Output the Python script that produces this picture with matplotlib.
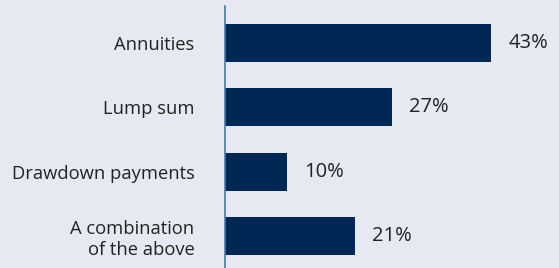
import matplotlib.pyplot as plt

categories = ["Annuities", "Lump sum", "Drawdown payments", "A combination\nof the above"]
values = [43, 27, 10, 21]

BG = "#e6e9f2"
BAR = "#002855"
AXIS = "#4f77a3"
TXT = "#222222"

plt.rcParams["font.family"] = ["Open Sans", "DejaVu Sans"]

fig = plt.figure(figsize=(5.59, 2.68), dpi=100, facecolor=BG)
ax = fig.add_axes([225 / 559, 0, 334 / 559, 262 / 268])
ax.set_facecolor(BG)

pos = list(range(len(categories)))
ax.barh(pos, values, height=0.59, color=BAR)
ax.set_xlim(0, 334 / 6.19)
ax.set_ylim(3.5, -0.575)

ax.set_yticks(pos)
ax.set_yticklabels(categories, fontsize=13.2, color=TXT, ha="right", linespacing=1.25)
ax.tick_params(axis="y", length=0, pad=22)
ax.set_xticks([])

for p, v in zip(pos, values):
    ax.annotate(f"{v}%", (v, p), xytext=(17, 0), textcoords="offset pixels",
                va="center", ha="left", fontsize=14.5, color=TXT)

for s in ["top", "right", "bottom"]:
    ax.spines[s].set_visible(False)
ax.spines["left"].set_color(AXIS)
ax.spines["left"].set_linewidth(1.2)

fig.savefig("out.png", dpi=100, facecolor=BG)
